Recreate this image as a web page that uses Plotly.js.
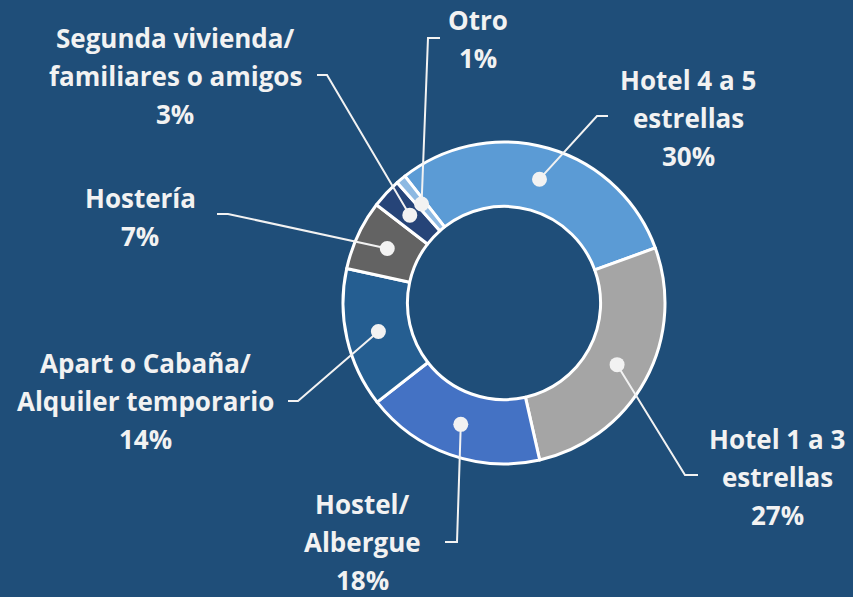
<!DOCTYPE html>
<html>
<head>
<meta charset="utf-8">
<script src="https://cdn.plot.ly/plotly-3.0.1.min.js"></script>
<style>html,body{margin:0;padding:0;background:#1F4E79;}#chart{width:853px;height:597px;}</style>
</head>
<body>
<div id="chart"></div>
<script>
// ---- data ----
const categories = ["Hotel 4 a 5 estrellas", "Hotel 1 a 3 estrellas", "Hostel/Albergue",
  "Apart o Cabaña/Alquiler temporario", "Hostería", "Segunda vivienda/familiares o amigos", "Otro"];
const values = [30, 27, 18, 14, 7, 3, 1];
const labelLines = [["Hotel 4 a 5", "estrellas"], ["Hotel 1 a 3", "estrellas"], ["Hostel/", "Albergue"],
  ["Apart o Cabaña/", "Alquiler temporario"], ["Hostería"], ["Segunda vivienda/", "familiares o amigos"], ["Otro"]];
const colors = ["#5B9BD5", "#A5A5A5", "#4472C4", "#255E91", "#636363", "#264478", "#8DB9E2"];

// ---- layout / styling ----
const W = 853, H = 597;
const CX = 504, CY = 303, R = 161, HOLE = 0.6;
const ROT = -38;
const TXT = "#F2F2F2";
const FONT = {family: "Open Sans, sans-serif", size: 26, color: TXT, weight: 700};
const LINE_H = 38;
// label block centers and leader elbows/ends (pixels)
const labelPos = [
  {x: 688, y: 118, elbow: [597, 116], end: [608, 116]},
  {x: 777, y: 477, elbow: [685, 475], end: [698, 475]},
  {x: 362, y: 542, elbow: [457, 542], end: [445, 542]},
  {x: 145, y: 401, elbow: [298, 401], end: [288, 401]},
  {x: 140, y: 217, elbow: [228, 214], end: [217, 214]},
  {x: 175, y: 76, elbow: [327, 75], end: [317, 75]},
  {x: 478, y: 39, elbow: [428, 38], end: [440, 38]}
];

const px = x => x / W;
const py = y => 1 - y / H;

const total = values.reduce((a, b) => a + b, 0);
const shapes = [];
const annotations = [];
let cum = 0;
values.forEach((v, i) => {
  const mid = (ROT + 360 * (cum + v / 2) / total) * Math.PI / 180;
  cum += v;
  const rr = R * (1 + HOLE) / 2;
  const dx = CX + rr * Math.sin(mid), dy = CY - rr * Math.cos(mid);
  const p = labelPos[i];
  shapes.push({
    type: "path", xref: "paper", yref: "paper",
    path: `M ${px(dx)} ${py(dy)} L ${px(p.elbow[0])} ${py(p.elbow[1])} L ${px(p.end[0])} ${py(p.end[1])}`,
    line: {color: TXT, width: 2}
  });
  const dr = 7.5;
  shapes.push({
    type: "circle", xref: "paper", yref: "paper",
    x0: px(dx - dr), x1: px(dx + dr), y0: py(dy + dr), y1: py(dy - dr),
    fillcolor: TXT, line: {width: 0}
  });
  const lines = labelLines[i].concat([Math.round(v / total * 100) + "%"]);
  const n = lines.length;
  lines.forEach((t, k) => {
    const yy = p.y + (k - (n - 1) / 2) * LINE_H;
    annotations.push({
      xref: "paper", yref: "paper", x: px(p.x), y: py(yy),
      xanchor: "center", yanchor: "middle", showarrow: false,
      text: t, font: FONT
    });
  });
});

const trace = {
  type: "pie",
  labels: categories,
  values: values,
  hole: HOLE,
  sort: false,
  direction: "clockwise",
  rotation: ROT,
  textinfo: "none",
  hoverinfo: "label+percent",
  marker: {colors: colors, line: {color: "#FFFFFF", width: 3}},
  domain: {x: [px(CX - R), px(CX + R)], y: [py(CY + R), py(CY - R)]},
  showlegend: false
};

const layout = {
  width: W, height: H,
  margin: {l: 0, r: 0, t: 0, b: 0},
  paper_bgcolor: "#1F4E79",
  plot_bgcolor: "#1F4E79",
  showlegend: false,
  shapes: shapes,
  annotations: annotations
};

Plotly.newPlot("chart", [trace], layout, {displayModeBar: false, staticPlot: true});
</script>
</body>
</html>
